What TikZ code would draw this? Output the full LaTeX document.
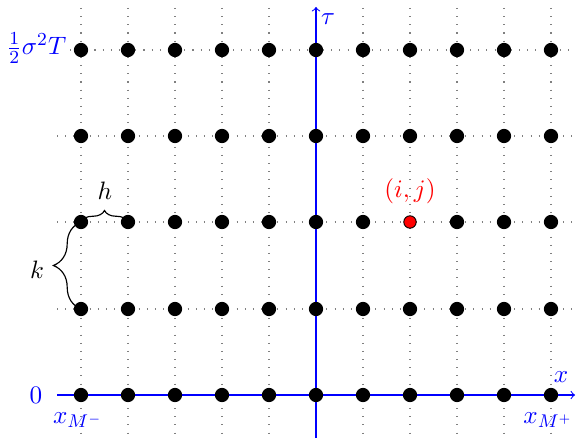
\documentclass[tikz,border=0pt]{standalone}
\usetikzlibrary{decorations.pathreplacing}
\begin{document}
\begin{tikzpicture}[x=0.4348pt,y=-0.4348pt,
  font=\fontsize{11}{13}\selectfont,
  gridline/.style={gray,line width=0.45pt,dash pattern=on 0.45pt off 3.1pt},
  axisline/.style={blue,->,line width=0.45pt},
  dot/.style={circle,fill=black,inner sep=0pt,minimum size=6.2pt},
  reddot/.style={circle,fill=red,draw=black,line width=0.4pt,inner sep=0pt,minimum size=5.4pt},
  bluelabel/.style={text=blue},
  bracestyle/.style={decorate,line width=0.5pt}]
\useasboundingbox (0,0) rectangle (577,438);
% grid lines
\foreach \i in {0,...,10} {
  \draw[gridline] ({81+47*\i},8) -- ({81+47*\i},438);
}
\foreach \y in {136,222,309} {
  \draw[gridline] (57,\y) -- (573,\y);
}
\draw[gridline] (70,50) -- (573,50);
% axes
\coordinate (xs) at (57,395);
\coordinate (xe) at (575,395);
\coordinate (ts) at (316,438);
\coordinate (te) at (316,7);
\draw[axisline] (xs) -- (xe);
\draw[axisline] (ts) -- (te);
% dots
\foreach \j/\y in {0/50,1/136,2/222,3/309,4/395} {
  \foreach \i in {0,...,10} {
    \ifnum\i=7 \ifnum\j=2 \else
      \node[dot] (p-\i-\j) at ({81+47*\i},\y) {};
    \fi\else
      \node[dot] (p-\i-\j) at ({81+47*\i},\y) {};
    \fi
  }
}
\node[reddot] (p-7-2) at (410,222) {};
\node[text=red] (lij) at (410,191) {$(i,j)$};
% labels
\node[bluelabel,anchor=east,inner sep=1pt] (lT) at (69,48) {$\frac{1}{2}\sigma^2T$};
\node[bluelabel] (l0) at (36,395) {$0$};
\node[bluelabel] (lxm) at (78,420) {$x_{M^-}$};
\node[bluelabel] (lxp) at (548,420) {$x_{M^+}$};
\node[bluelabel] (lx) at (561,377) {$x$};
\node[bluelabel] (ltau) at (328,19) {$\tau$};
% braces
\draw[bracestyle,decoration={brace,amplitude=5pt}] (p-0-2.center) -- (p-1-2.center);
\node (lh) at (105,191) {$h$};
\draw[bracestyle,decoration={brace,amplitude=12pt}] (p-0-3.center) -- (p-0-2.center);
\node (lk) at (37,270) {$k$};
\end{tikzpicture}
\end{document}
